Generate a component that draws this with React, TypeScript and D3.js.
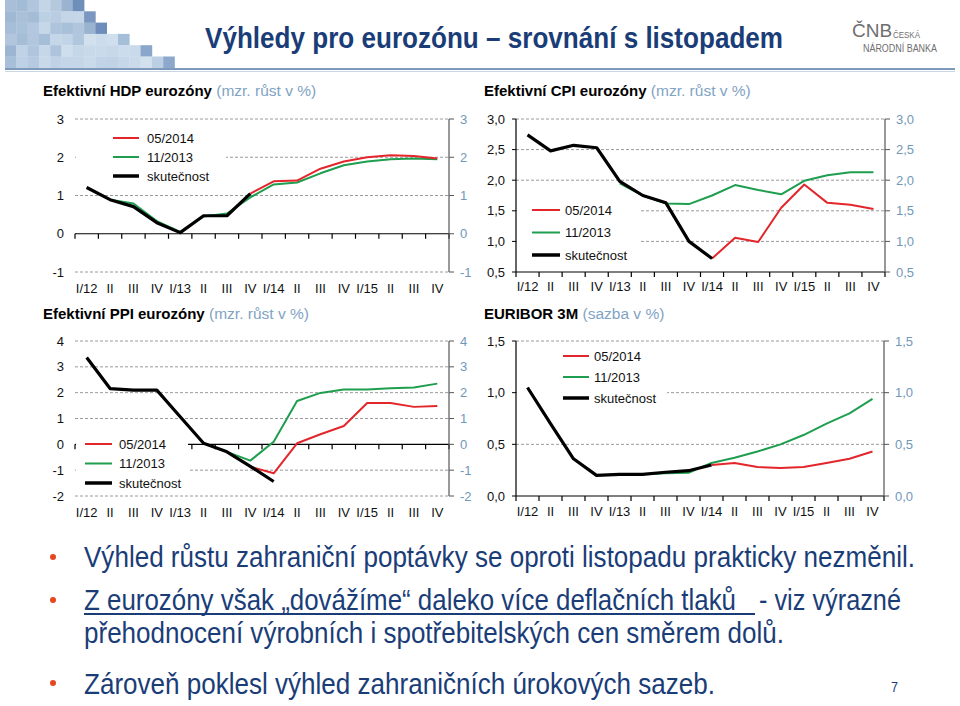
import React from "react";
import * as d3 from "d3";

const quarters = ["I/12","II","III","IV","I/13","II","III","IV","I/14","II","III","IV","I/15","II","III","IV"];

type V = number | null;
const _ = null;

// Efektivní HDP eurozóny
const hdpActual: V[] = [1.21, 0.89, 0.71, 0.29, 0.03, 0.47, 0.47, 1.05, _, _, _, _, _, _, _, _];
const hdpMay14: V[] = [_, _, _, _, _, _, _, 1.05, 1.37, 1.39, 1.7, 1.89, 2.0, 2.05, 2.03, 1.97];
const hdpNov13: V[] = [1.21, 0.89, 0.79, 0.33, 0.05, 0.45, 0.53, 0.95, 1.29, 1.34, 1.58, 1.79, 1.89, 1.95, 1.97, 1.95];

// Efektivní CPI eurozóny
const cpiActual: V[] = [2.74, 2.48, 2.57, 2.53, 1.98, 1.75, 1.63, 1.0, 0.72, _, _, _, _, _, _, _];
const cpiMay14: V[] = [_, _, _, _, _, _, _, _, 0.72, 1.06, 0.99, 1.55, 1.93, 1.63, 1.6, 1.53];
const cpiNov13: V[] = [_, _, _, _, 1.95, 1.75, 1.62, 1.61, 1.75, 1.92, 1.84, 1.77, 1.99, 2.08, 2.13, 2.13];

// Efektivní PPI eurozóny
const ppiActual: V[] = [3.36, 2.16, 2.1, 2.1, 1.07, 0.04, -0.29, -0.85, -1.44, _, _, _, _, _, _, _];
const ppiMay14: V[] = [_, _, _, _, _, _, _, -0.87, -1.12, 0.04, 0.39, 0.71, 1.6, 1.6, 1.45, 1.48];
const ppiNov13: V[] = [_, _, _, _, _, _, -0.29, -0.63, 0.1, 1.68, 1.99, 2.12, 2.12, 2.17, 2.2, 2.35];

// EURIBOR 3M
const eurActual: V[] = [1.05, 0.7, 0.36, 0.2, 0.21, 0.21, 0.23, 0.245, 0.3, _, _, _, _, _, _, _];
const eurMay14: V[] = [_, _, _, _, _, _, _, _, 0.3, 0.32, 0.28, 0.27, 0.28, 0.32, 0.36, 0.43];
const eurNov13: V[] = [_, _, _, _, _, 0.21, 0.22, 0.225, 0.32, 0.37, 0.43, 0.5, 0.59, 0.7, 0.8, 0.94];

const hdpTicks = [-1, 0, 1, 2, 3];
const cpiTicks = [0.5, 1.0, 1.5, 2.0, 2.5, 3.0];
const ppiTicks = [-2, -1, 0, 1, 2, 3, 4];
const eurTicks = [0, 0.5, 1.0, 1.5];

const legendLabels = ["05/2014", "11/2013", "skutečnost"];

const bullets = [
  "Výhled růstu zahraniční poptávky se oproti listopadu prakticky nezměnil.",
  "Z eurozóny však „dovážíme“ daleko více deflačních tlaků",
  "- viz výrazné",
  "přehodnocení výrobních i spotřebitelských cen směrem dolů.",
  "Zároveň poklesl výhled zahraničních úrokových sazeb.",
];

const mosaic: string[][] = [
  ["#a9bfd8", "#a3bcd6", "#b0c6dd", "#c4d5e7", "#b5c9de", "#9ab3d1", "#6f8fbb"],
  ["#9fb8d4", "#a9c0d9", "#a4bcd6", "#bcd0e4", "#b8cde2", "#c3d5e7", "#c5d6e8", "#7a97c0"],
  ["#a7bed8", "#aac1da", "#b3c8de", "#c6d7e9", "#aec4dc", "#a9c0d9", "#b1c6dd", "#9ab3d1", "#6d8dba"],
  ["#b1c6dd", "#a6bdd7", "#b2c7de", "#a6bed8", "#c5d6e8", "#c2d4e7", "#b1c7de", "#d2e0ee", "#ccdcec", "#d0dfed", "#a6bfd9"],
  ["#9cb5d2", "#bfd2e6", "#b0c6dd", "#c6d7e9", "#aec4dc", "#cfdeed", "#c4d6e8", "#c8d9ea", "#c9daeb", "#c6d8ea", "#cddced", "#c9daeb", "#8aa6cb"],
  ["#a8bfd9", "#bdd0e5", "#b5cae0", "#c8d9ea", "#bfd2e6", "#c3d5e8", "#c4d6e8", "#c9daeb", "#c0d3e7", "#bfd2e6", "#c5d7e9", "#cadaeb", "#d3e1ef", "#bccfe4", "#8ca8cc"],
];

const RED = "#e3262b";
const GREEN = "#1f9e4f";
const BLACK = "#000";
const NAVY = "#1a3d78";
const RIGHT = "#7198b9";
const FONT = "'Liberation Sans', Arial, Helvetica, sans-serif";

interface ChartCfg {
  x0: number; x1: number; yTop: number; yBot: number;
  domain: [number, number]; ticks: number[]; fmt: (v: number) => string;
  axisAt: number; leftAxis: boolean; labelY: number;
  legend: { lx0: number; lx1: number; tx: number; y0: number; dy: number };
  mask: { x: number; y: number; w: number; h: number };
  series: [V[], V[], V[]]; // may14, nov13, actual
}

function Chart({ c }: { c: ChartCfg }) {
  const x = d3.scaleBand<number>().domain(d3.range(quarters.length)).range([c.x0, c.x1]);
  const y = d3.scaleLinear().domain(c.domain).range([c.yBot, c.yTop]);
  const line = d3.line<V>()
    .defined((d) => d !== null)
    .x((_d, i) => (x(i) as number) + x.bandwidth() / 2)
    .y((d) => y(d as number));
  const colors = [RED, GREEN, BLACK];
  const widths = [2, 2, 3.2];
  const ay = y(c.axisAt);
  return (
    <g>
      {c.ticks.filter((t) => t !== c.axisAt).map((t) => (
        <line key={"g" + t} x1={c.x0} x2={c.x1} y1={y(t)} y2={y(t)} stroke="#9a9a9a" strokeWidth={1} strokeDasharray="3,2" />
      ))}
      <line x1={c.x0} x2={c.x1} y1={ay} y2={ay} stroke="#000" strokeWidth={1.2} />
      {d3.range(quarters.length + 1).map((i) => {
        const xx = c.x0 + i * x.step();
        return <line key={"t" + i} x1={xx} x2={xx} y1={ay} y2={ay + 5} stroke="#000" strokeWidth={1.2} />;
      })}
      {c.leftAxis && (
        <g>
          <line x1={c.x0} x2={c.x0} y1={c.yTop} y2={c.yBot} stroke="#000" strokeWidth={1.2} />
          {c.ticks.map((t) => (
            <line key={"lt" + t} x1={c.x0 - 4} x2={c.x0} y1={y(t)} y2={y(t)} stroke="#000" strokeWidth={1} />
          ))}
        </g>
      )}
      <line x1={c.x1} x2={c.x1} y1={c.yTop} y2={c.yBot} stroke="#555" strokeWidth={1.2} />
      {c.ticks.map((t) => (
        <line key={"rt" + t} x1={c.x1} x2={c.x1 + 5} y1={y(t)} y2={y(t)} stroke="#555" strokeWidth={1} />
      ))}
      {c.ticks.map((t) => (
        <text key={"ll" + t} x={c.x0 - 11} y={y(t)} dy="0.35em" textAnchor="end" fontSize={13} fill="#111" fontFamily={FONT}>{c.fmt(t)}</text>
      ))}
      {c.ticks.map((t) => (
        <text key={"rl" + t} x={c.x1 + 11} y={y(t)} dy="0.35em" textAnchor="start" fontSize={13} fill={RIGHT} fontFamily={FONT}>{c.fmt(t)}</text>
      ))}
      {quarters.map((q, i) => (
        <text key={"q" + i} x={(x(i) as number) + x.bandwidth() / 2} y={c.labelY} textAnchor="middle" fontSize={13} fill="#111" fontFamily={FONT}>{q}</text>
      ))}
      <rect x={c.mask.x} y={c.mask.y} width={c.mask.w} height={c.mask.h} fill="#fff" />
      {legendLabels.map((l, i) => (
        <g key={"lg" + i}>
          <line x1={c.legend.lx0} x2={c.legend.lx1} y1={c.legend.y0 + i * c.legend.dy} y2={c.legend.y0 + i * c.legend.dy} stroke={colors[i]} strokeWidth={i === 2 ? 3.5 : 2} />
          <text x={c.legend.tx} y={c.legend.y0 + i * c.legend.dy} dy="0.35em" fontSize={13} fill="#111" fontFamily={FONT}>{l}</text>
        </g>
      ))}
      {[1, 0, 2].map((k) => (
        <path key={"s" + k} d={line(c.series[k]) || ""} fill="none" stroke={colors[k]} strokeWidth={widths[k]} strokeLinejoin="round" />
      ))}
    </g>
  );
}

const intFmt = (v: number) => String(v);
const decFmt = (v: number) => d3.format(".1f")(v).replace(".", ",");

const charts: ChartCfg[] = [
  {
    x0: 75, x1: 449, yTop: 119, yBot: 272, domain: [-1, 3], ticks: hdpTicks, fmt: intFmt,
    axisAt: 0, leftAxis: false, labelY: 293,
    legend: { lx0: 113, lx1: 139, tx: 147, y0: 138, dy: 19 },
    mask: { x: 76, y: 126, w: 150, h: 60 },
    series: [hdpMay14, hdpNov13, hdpActual],
  },
  {
    x0: 516, x1: 885, yTop: 119, yBot: 272, domain: [0.5, 3.0], ticks: cpiTicks, fmt: decFmt,
    axisAt: 0.5, leftAxis: true, labelY: 291,
    legend: { lx0: 532, lx1: 560, tx: 565, y0: 210, dy: 22.5 },
    mask: { x: 517, y: 196, w: 124, h: 68 },
    series: [cpiMay14, cpiNov13, cpiActual],
  },
  {
    x0: 75, x1: 449, yTop: 341, yBot: 496, domain: [-2, 4], ticks: ppiTicks, fmt: intFmt,
    axisAt: 0, leftAxis: false, labelY: 517,
    legend: { lx0: 85, lx1: 112, tx: 119, y0: 444, dy: 19.5 },
    mask: { x: 76, y: 429, w: 112, h: 62 },
    series: [ppiMay14, ppiNov13, ppiActual],
  },
  {
    x0: 516, x1: 884, yTop: 341, yBot: 496, domain: [0, 1.5], ticks: eurTicks, fmt: decFmt,
    axisAt: 0, leftAxis: true, labelY: 516,
    legend: { lx0: 563, lx1: 589, tx: 594, y0: 356, dy: 21 },
    mask: { x: 517, y: 345, w: 150, h: 60 },
    series: [eurMay14, eurNov13, eurActual],
  },
];

const titles = [
  { x: 43, y: 96, bold: "Efektivní HDP eurozóny", rest: " (mzr. růst v %)" },
  { x: 484, y: 96, bold: "Efektivní CPI eurozóny", rest: " (mzr. růst v %)" },
  { x: 43, y: 319, bold: "Efektivní PPI eurozóny", rest: " (mzr. růst v %)" },
  { x: 484, y: 319, bold: "EURIBOR 3M", rest: " (sazba v %)" },
];

const NARROW = "'Liberation Sans Narrow', 'Arial Narrow', 'Liberation Sans', Arial, sans-serif";
const SX = 0.8;

function Narrow({ x, y, w, size, bold, children }: { x: number; y: number; w: number; size: number; bold?: boolean; children: string }) {
  return (
    <text transform={`translate(${x},${y}) scale(${SX},1)`} x={0} y={0} fontSize={size} fontWeight={bold ? "bold" : "normal"}
      fontFamily={NARROW} textLength={w / SX} lengthAdjust="spacingAndGlyphs">
      {children}
    </text>
  );
}

export default function App() {
  const cw = 11.3, ch = 11.3;
  return (
    <svg width={960} height={706} style={{ position: "absolute", left: 0, top: 0, background: "#fff" }}>
      <rect x={0} y={0} width={960} height={706} fill="#fff" />
      {mosaic.map((row, r) =>
        row.map((col, k) => (
          <rect key={r + "-" + k} x={5 + k * cw} y={r * ch} width={cw + 0.3} height={ch + 0.3} fill={col} />
        ))
      )}
      <line x1={5} x2={955} y1={69} y2={69} stroke="#7d9aba" strokeWidth={2} />
      <line x1={5} x2={955} y1={71.5} y2={71.5} stroke="#c9d6e4" strokeWidth={1} />
      <g fill={NAVY}>
        <Narrow x={205} y={48} w={578} size={30} bold>Výhledy pro eurozónu – srovnání s listopadem</Narrow>
      </g>
      <g fill="#6e6e6e" fontFamily={FONT}>
        <text x={852} y={37} fontSize={19}>ČNB</text>
        <text x={893} y={37.5} fontSize={8.5} textLength={27} lengthAdjust="spacingAndGlyphs">ČESKÁ</text>
        <text x={863} y={52} fontSize={10} textLength={74} lengthAdjust="spacingAndGlyphs">NÁRODNÍ BANKA</text>
      </g>
      {titles.map((t, i) => (
        <text key={"ti" + i} x={t.x} y={t.y} fontSize={15} fontFamily={FONT}>
          <tspan fontWeight="bold" fill="#000">{t.bold}</tspan>
          <tspan fill="#7fa3c4" fontSize={15.5}>{t.rest}</tspan>
        </text>
      ))}
      {charts.map((c, i) => <Chart key={i} c={c} />)}
      <g fill={NAVY}>
        <Narrow x={84} y={567} w={831} size={30}>{bullets[0]}</Narrow>
        <Narrow x={84} y={610} w={652} size={30}>{bullets[1]}</Narrow>
        <line x1={84} x2={755} y1={614} y2={614} stroke={NAVY} strokeWidth={2} />
        <Narrow x={759} y={610} w={142} size={30}>{bullets[2]}</Narrow>
        <Narrow x={84} y={643} w={700} size={30}>{bullets[3]}</Narrow>
        <Narrow x={84} y={694} w={631} size={30}>{bullets[4]}</Narrow>
        <text x={891} y={692} fontSize={15} fontFamily={NARROW} textLength={7} lengthAdjust="spacingAndGlyphs">7</text>
      </g>
      {[557, 600, 683].map((by) => (
        <circle key={by} cx={53} cy={by} r={3} fill="#e8461e" />
      ))}
    </svg>
  );
}
